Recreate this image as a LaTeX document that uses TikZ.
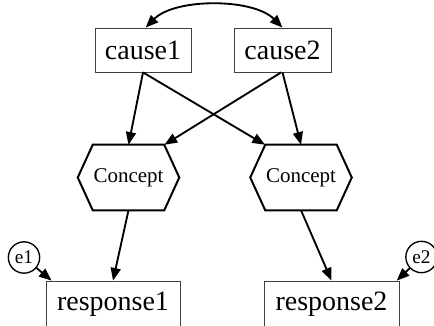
\documentclass[tikz,border=0pt]{standalone}
\usepackage{fontspec}
\setmainfont{Liberation Serif}
\usetikzlibrary{arrows.meta, calc}

\tikzset{
  box/.style={draw=black!75, line width=0.6pt, minimum width=72pt, minimum height=33pt, inner sep=0pt, font=\fontsize{21}{25}\selectfont},
  concept/.style={minimum width=75.75pt, minimum height=48.75pt, inner sep=0pt, font=\fontsize{15.75}{19}\selectfont},
  err/.style={draw, circle, line width=1pt, minimum size=23.5pt, inner sep=0pt, font=\fontsize{14.5}{17}\selectfont},
  path/.style={line width=1.4pt, -{Triangle[length=9.5pt,width=7.5pt]}},
  hexline/.style={line width=1.5pt, line join=miter}
}

\begin{document}
\begin{tikzpicture}[x=0.75pt,y=0.75pt,yscale=-1,xscale=1]
\clip (0,0) rectangle (434,325);

% Causes
\node[box] (cause1) at (143,50) {cause1};
\node[box, minimum width=72.75pt] (cause2) at (282.5,50) {cause2};

% Concepts
\node[concept] (concept1) at (128.5,177.5) {Concept};
\node[concept] (concept2) at (301,177.5) {Concept};
\foreach \n in {concept1,concept2}
  \draw[hexline] (\n.west) -- ([xshift=11.25pt]\n.north west) -- ([xshift=-11.25pt]\n.north east) -- (\n.east) -- ([xshift=-11.25pt]\n.south east) -- ([xshift=11.25pt]\n.south west) -- cycle;

% Responses and errors
\node[box, minimum width=100.5pt, minimum height=34.5pt] (response1) at (113,304) {response1};
\node[box, minimum width=101.25pt, minimum height=34.5pt] (response2) at (331.5,304) {response2};
\node[err] (e1) at (24,257.5) {e1};
\node[err] (e2) at (421.5,257) {e2};

% Covariance
\draw[line width=1.4pt, {Triangle[length=9.5pt,width=7.5pt]}-{Triangle[length=9.5pt,width=7.5pt]}] ([xshift=2pt]cause1.north) .. controls (175,-2) and (253,-2) .. (cause2.north);

% Paths
\draw[path] (cause1.south) -- (concept1.north);
\draw[path] (cause1.south) -- ([xshift=-27pt]concept2.north);
\draw[path] ([xshift=-1pt]cause2.south) -- ([xshift=27pt]concept1.north);
\draw[path] (cause2.south) -- (concept2.north);
\draw[path] (concept1.south) -- (response1.north);
\draw[path] (concept2.south) -- (response2.north);
\draw[path] (e1) -- ([xshift=4.5pt]response1.north west);
\draw[path] (e2) -- ([xshift=-2pt]response2.north east);

\end{tikzpicture}
\end{document}
